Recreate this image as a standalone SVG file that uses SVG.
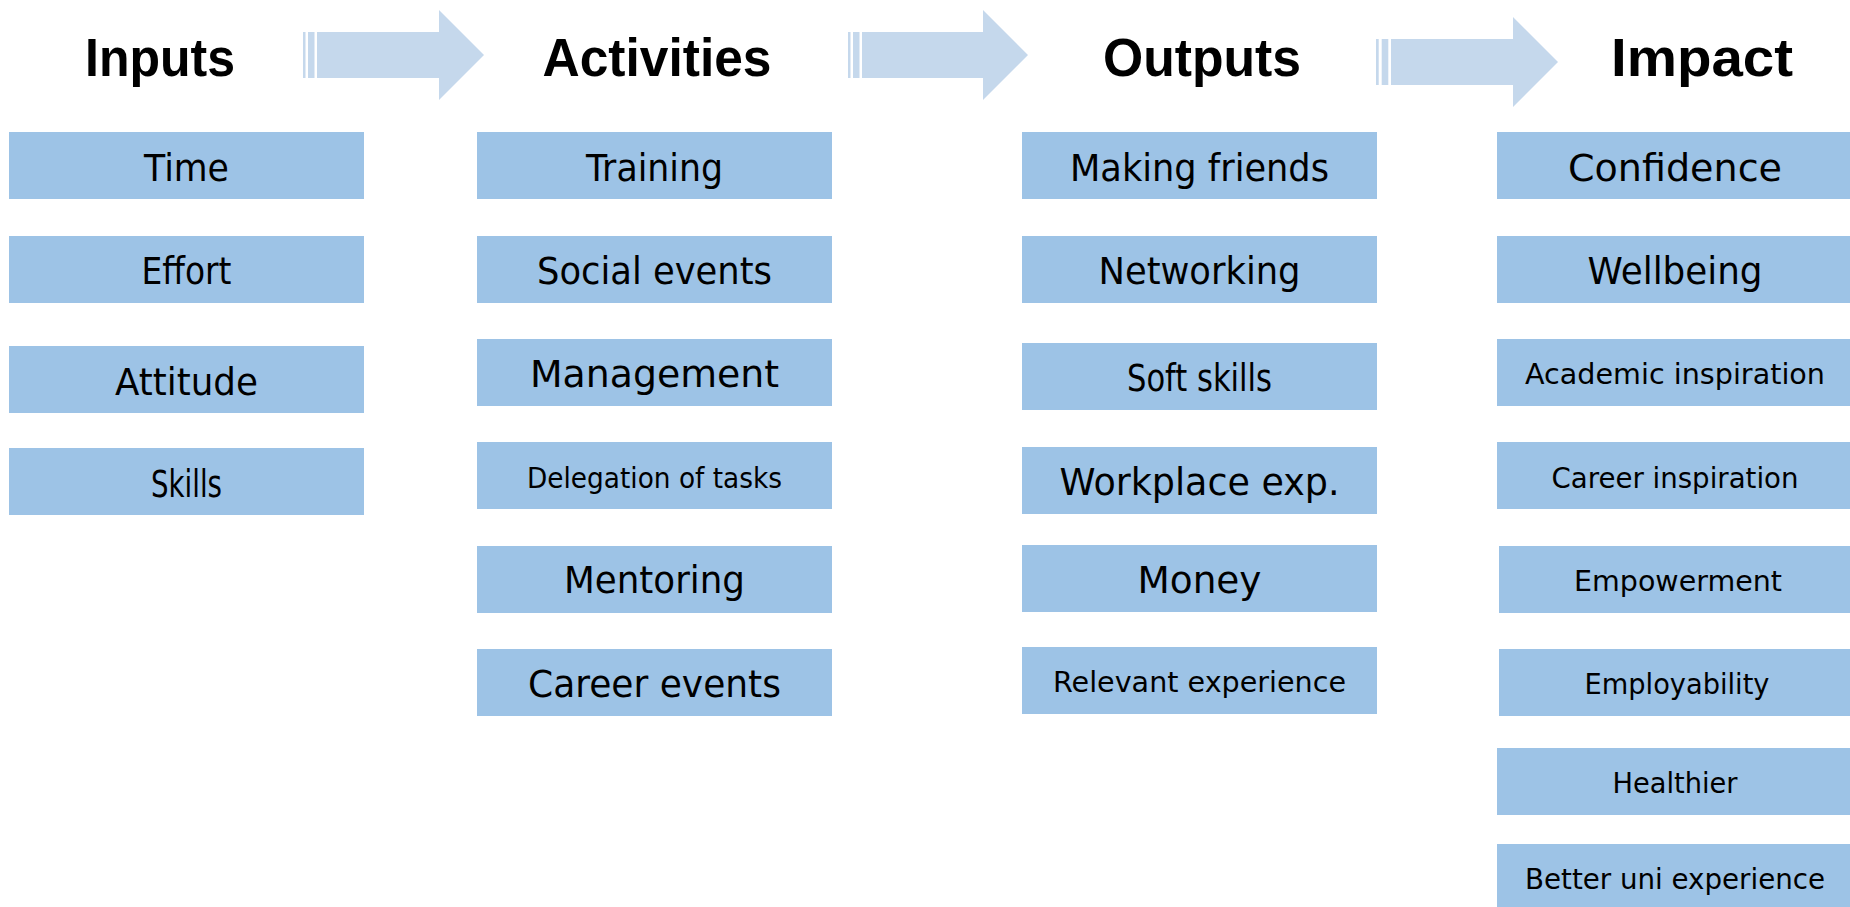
<svg xmlns="http://www.w3.org/2000/svg" width="1850" height="907" viewBox="0 0 1850 907">
<style>
.box{fill:#9DC3E6}
.arr{fill:#C5D8EC}
.hd{font-family:"Liberation Sans",Arial,sans-serif;font-weight:bold;font-size:54px;fill:#000;text-anchor:middle}
.lg{font-family:"DejaVu Sans",sans-serif;font-size:37px;fill:#000;text-anchor:middle}
.sm{font-family:"DejaVu Sans",sans-serif;font-size:29px;fill:#000;text-anchor:middle}
</style>
<rect width="1850" height="907" fill="#fff"/>
<g id="connectors">
<g id="arrow1">
<rect class="arr" x="303" y="32" width="2.5" height="46"/>
<rect class="arr" x="308" y="32" width="6.5" height="46"/>
<polygon class="arr" points="317,32 439,32 439,10 484,55 439,100 439,78 317,78"/>
</g>
<g id="arrow2">
<rect class="arr" x="848" y="32" width="2.5" height="46"/>
<rect class="arr" x="853" y="32" width="6.5" height="46"/>
<polygon class="arr" points="862,32 983,32 983,10 1028,55 983,100 983,78 862,78"/>
</g>
<g id="arrow3">
<rect class="arr" x="1376" y="39" width="2.7" height="46"/>
<rect class="arr" x="1381.7" y="39" width="6.6" height="46"/>
<polygon class="arr" points="1391,39 1513,39 1513,17 1558,62 1513,107 1513,85 1391,85"/>
</g>
</g>
<g id="headers">
<text id="h-inputs" class="hd" x="160" y="76" textLength="150" lengthAdjust="spacingAndGlyphs">Inputs</text>
<text id="h-activities" class="hd" x="657" y="76" textLength="229" lengthAdjust="spacingAndGlyphs">Activities</text>
<text id="h-outputs" class="hd" x="1202" y="76" textLength="198" lengthAdjust="spacingAndGlyphs">Outputs</text>
<text id="h-impact" class="hd" x="1702" y="76" textLength="182" lengthAdjust="spacingAndGlyphs">Impact</text>
</g>
<g id="inputs">
<g id="n-time"><rect class="box" x="9" y="132" width="355" height="67"/><text class="lg" x="186.5" y="181" textLength="85" lengthAdjust="spacingAndGlyphs">Time</text></g>
<g id="n-effort"><rect class="box" x="9" y="236" width="355" height="67"/><text class="lg" x="186.5" y="284" textLength="90" lengthAdjust="spacingAndGlyphs">Effort</text></g>
<g id="n-attitude"><rect class="box" x="9" y="346" width="355" height="67"/><text class="lg" x="186.5" y="395" textLength="143" lengthAdjust="spacingAndGlyphs">Attitude</text></g>
<g id="n-skills"><rect class="box" x="9" y="448" width="355" height="67"/><text class="lg" x="186.5" y="497" textLength="71" lengthAdjust="spacingAndGlyphs">Skills</text></g>
</g>
<g id="activities">
<g id="n-training"><rect class="box" x="477" y="132" width="355" height="67"/><text class="lg" x="654.5" y="181" textLength="137" lengthAdjust="spacingAndGlyphs">Training</text></g>
<g id="n-social"><rect class="box" x="477" y="236" width="355" height="67"/><text class="lg" x="654.5" y="284" textLength="235" lengthAdjust="spacingAndGlyphs">Social events</text></g>
<g id="n-management"><rect class="box" x="477" y="339" width="355" height="67"/><text class="lg" x="654.5" y="387" textLength="249" lengthAdjust="spacingAndGlyphs">Management</text></g>
<g id="n-delegation"><rect class="box" x="477" y="442" width="355" height="67"/><text class="sm" x="654.5" y="488" textLength="255" lengthAdjust="spacingAndGlyphs">Delegation of tasks</text></g>
<g id="n-mentoring"><rect class="box" x="477" y="546" width="355" height="67"/><text class="lg" x="654.5" y="593" textLength="181" lengthAdjust="spacingAndGlyphs">Mentoring</text></g>
<g id="n-career-events"><rect class="box" x="477" y="649" width="355" height="67"/><text class="lg" x="654.5" y="697" textLength="253" lengthAdjust="spacingAndGlyphs">Career events</text></g>
</g>
<g id="outputs">
<g id="n-friends"><rect class="box" x="1022" y="132" width="355" height="67"/><text class="lg" x="1199.5" y="181" textLength="259" lengthAdjust="spacingAndGlyphs">Making friends</text></g>
<g id="n-networking"><rect class="box" x="1022" y="236" width="355" height="67"/><text class="lg" x="1199.5" y="284" textLength="202" lengthAdjust="spacingAndGlyphs">Networking</text></g>
<g id="n-soft"><rect class="box" x="1022" y="343" width="355" height="67"/><text class="lg" x="1199.5" y="391" textLength="145" lengthAdjust="spacingAndGlyphs">Soft skills</text></g>
<g id="n-workplace"><rect class="box" x="1022" y="447" width="355" height="67"/><text class="lg" x="1199.5" y="495" textLength="280" lengthAdjust="spacingAndGlyphs">Workplace exp.</text></g>
<g id="n-money"><rect class="box" x="1022" y="545" width="355" height="67"/><text class="lg" x="1199.5" y="593" textLength="124" lengthAdjust="spacingAndGlyphs">Money</text></g>
<g id="n-relevant"><rect class="box" x="1022" y="647" width="355" height="67"/><text class="sm" x="1199.5" y="692" textLength="293" lengthAdjust="spacingAndGlyphs">Relevant experience</text></g>
</g>
<g id="impact">
<g id="n-confidence"><rect class="box" x="1497" y="132" width="355" height="67"/><text class="lg" x="1675" y="181" textLength="214" lengthAdjust="spacingAndGlyphs">Confidence</text></g>
<g id="n-wellbeing"><rect class="box" x="1497" y="236" width="355" height="67"/><text class="lg" x="1675" y="284" textLength="175" lengthAdjust="spacingAndGlyphs">Wellbeing</text></g>
<g id="n-academic"><rect class="box" x="1497" y="339" width="355" height="67"/><text class="sm" x="1675" y="384" textLength="300" lengthAdjust="spacingAndGlyphs">Academic inspiration</text></g>
<g id="n-career-insp"><rect class="box" x="1497" y="442" width="355" height="67"/><text class="sm" x="1675" y="488" textLength="247" lengthAdjust="spacingAndGlyphs">Career inspiration</text></g>
<g id="n-empowerment"><rect class="box" x="1499" y="546" width="353" height="67"/><text class="sm" x="1678" y="591" textLength="208" lengthAdjust="spacingAndGlyphs">Empowerment</text></g>
<g id="n-employability"><rect class="box" x="1499" y="649" width="353" height="67"/><text class="sm" x="1677" y="694" textLength="185" lengthAdjust="spacingAndGlyphs">Employability</text></g>
<g id="n-healthier"><rect class="box" x="1497" y="748" width="355" height="67"/><text class="sm" x="1675" y="793" textLength="125" lengthAdjust="spacingAndGlyphs">Healthier</text></g>
<g id="n-better-uni"><rect class="box" x="1497" y="844" width="355" height="67"/><text class="sm" x="1675" y="889" textLength="300" lengthAdjust="spacingAndGlyphs">Better uni experience</text></g>
</g>
</svg>
